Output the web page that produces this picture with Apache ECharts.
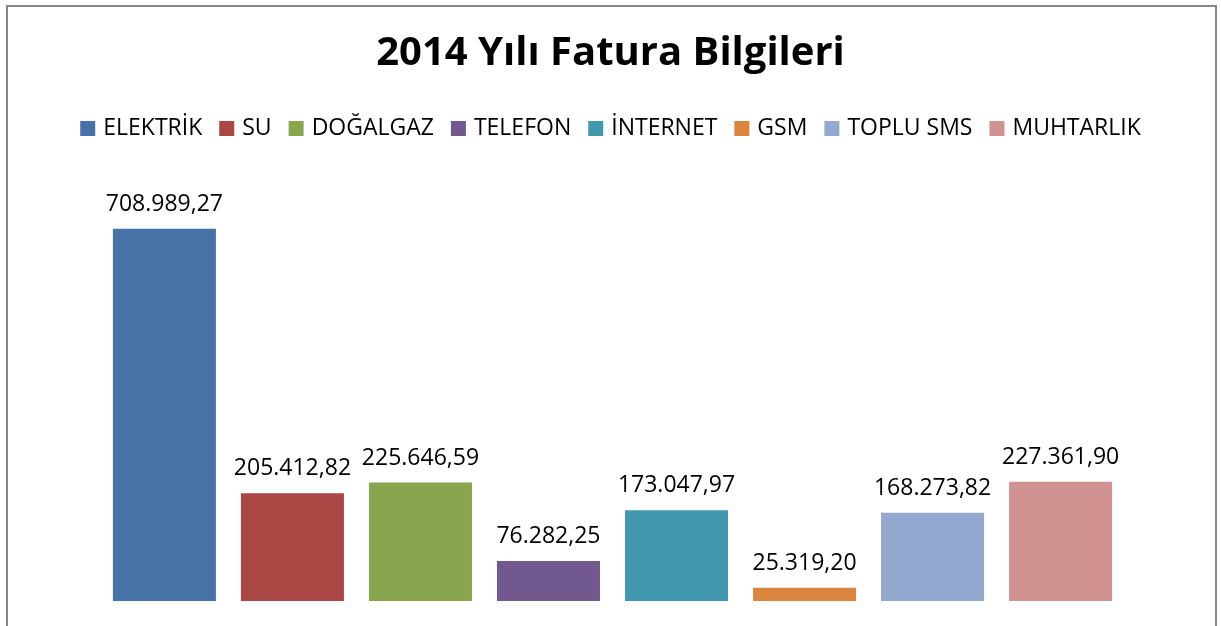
<!DOCTYPE html>
<html>
<head>
<meta charset="utf-8">
<script src="https://cdn.jsdelivr.net/npm/echarts@6/dist/echarts.min.js"></script>
<style>
html,body{margin:0;padding:0;background:#fff;}
#chart{width:1221px;height:626px;}
</style>
</head>
<body>
<div id="chart"></div>
<script>
const titleText = '2014 Yılı Fatura Bilgileri';
const seriesNames = ['ELEKTRİK', 'SU', 'DOĞALGAZ', 'TELEFON', 'İNTERNET', 'GSM', 'TOPLU SMS', 'MUHTARLIK'];
const seriesValues = [708989.27, 205412.82, 225646.59, 76282.25, 173047.97, 25319.20, 168273.82, 227361.90];
const seriesColors = ['#4572A7', '#AA4643', '#89A54E', '#71588F', '#4198AF', '#DB843D', '#93A9CF', '#D19392'];
const categories = [''];

function fmtTR(v) {
  const fixed = v.toFixed(2);
  const parts = fixed.split('.');
  const intPart = parts[0].replace(/\B(?=(\d{3})+(?!\d))/g, '.');
  return intPart + ',' + parts[1];
}

const FONT = 'Open Sans';
const chart = echarts.init(document.getElementById('chart'), null, {renderer: 'canvas'});
const option = {
  backgroundColor: '#ffffff',
  animation: false,
  title: {
    text: titleText,
    left: 'center',
    top: 29,
    textStyle: {fontFamily: FONT, fontWeight: 'bold', fontSize: 40, color: '#000'}
  },
  legend: {
    data: seriesNames,
    top: 112,
    left: 'center',
    itemWidth: 15,
    itemHeight: 15,
    itemGap: 17,
    icon: 'rect',
    textStyle: {fontFamily: FONT, fontSize: 23, color: '#000', padding: [0, 0, 0, 3]}
  },
  grid: {left: 60, right: 56, top: 181, bottom: 25},
  xAxis: {
    type: 'category',
    data: categories,
    axisLine: {show: false},
    axisTick: {show: false},
    axisLabel: {show: false}
  },
  yAxis: {
    type: 'value',
    min: 0,
    max: 800000,
    show: false,
    splitLine: {show: false}
  },
  graphic: [{
    type: 'rect',
    shape: {x: 7, y: 6, width: 1209, height: 1000},
    style: {fill: 'none', stroke: '#878787', lineWidth: 2},
    silent: true,
    z: 100
  }],
  series: seriesNames.map((name, i) => ({
    name: name,
    type: 'bar',
    data: [seriesValues[i]],
    barWidth: 103,
    barGap: '24.3%',
    itemStyle: {color: seriesColors[i]},
    label: {
      show: true,
      position: 'top',
      distance: 13,
      formatter: p => fmtTR(p.value),
      fontFamily: FONT,
      fontSize: 23,
      color: '#000'
    }
  }))
};
chart.setOption(option);
</script>
</body>
</html>
